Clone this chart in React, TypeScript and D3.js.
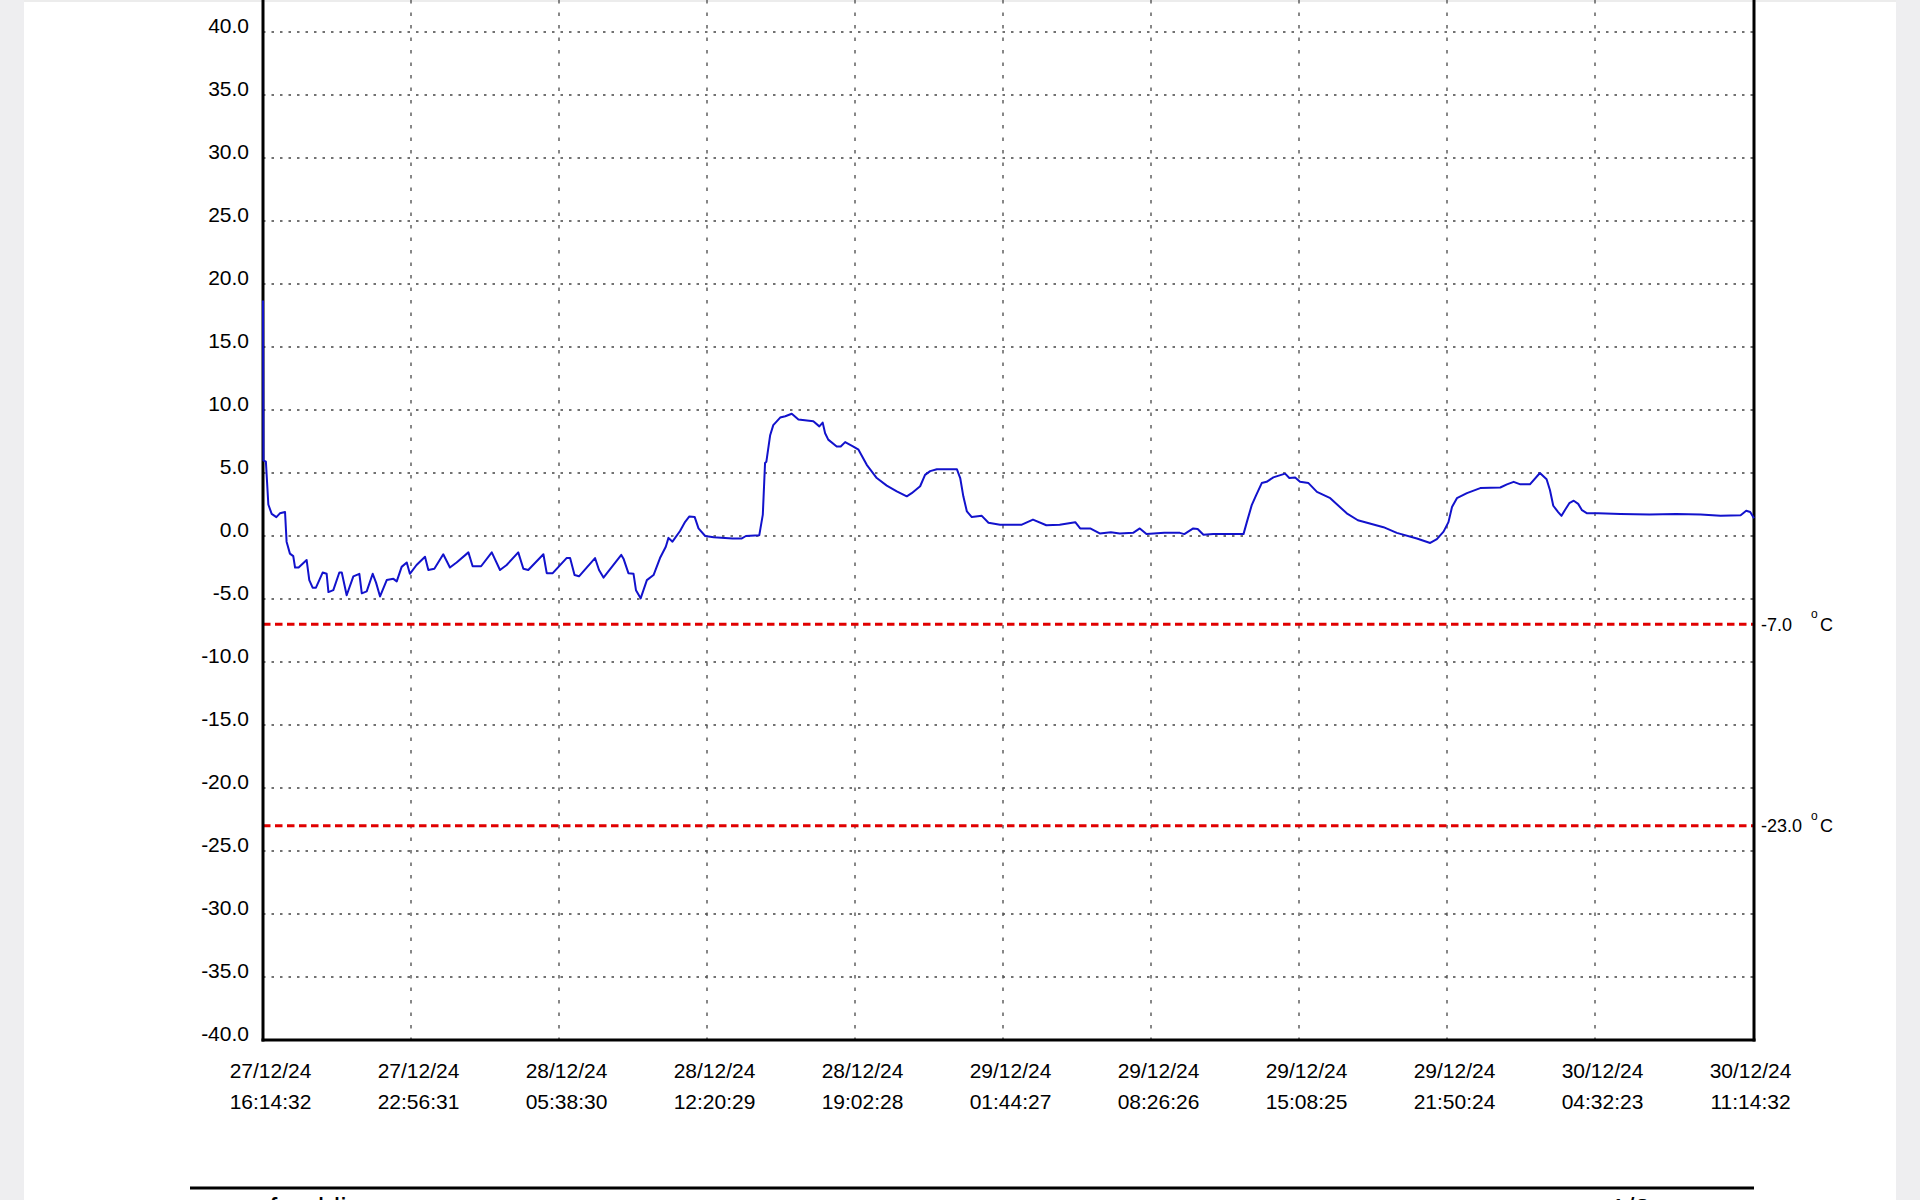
import React from "react";
import * as d3 from "d3";

const hoursFromStart: number[] = [
  0, 0.02, 0.13, 0.24, 0.39, 0.6, 0.76, 0.99, 1.06, 1.21, 1.36, 1.44, 1.6, 1.96, 2.08, 2.23, 2.38, 2.68, 2.86, 2.94,
  3.16, 3.43, 3.54, 3.76, 4.06, 4.33, 4.44, 4.66, 4.93, 5.08, 5.26, 5.56, 5.86, 6.01, 6.23, 6.46, 6.6, 6.9, 7.28, 7.43,
  7.7, 8.1, 8.4, 8.7, 9.23, 9.42, 9.8, 10.28, 10.65, 10.95, 11.47, 11.7, 11.92, 12.6, 12.75, 13.02, 13.64, 13.8, 14.0, 14.2,
  14.92, 15.1, 15.3, 16.1, 16.2, 16.42, 16.65, 16.76, 16.97, 17.25, 17.55, 17.84, 18.1, 18.22, 18.4, 18.74, 18.97, 19.16, 19.4, 19.57,
  19.87, 20.25, 21.1, 21.5, 21.7, 22.3, 22.46, 22.56, 22.62, 22.79, 22.93, 23.24, 23.47, 23.76, 24.06, 24.73, 25.0, 25.15, 25.26, 25.4,
  25.78, 25.96, 26.16, 26.53, 26.76, 27.13, 27.58, 28.03, 28.48, 28.93, 29.15, 29.53, 29.75, 29.98, 30.28, 31.18, 31.33, 31.47, 31.63, 31.85,
  32.3, 32.6, 33.12, 34.1, 34.6, 35.2, 35.8, 36.5, 36.72, 37.17, 37.6, 38.1, 38.5, 39.1, 39.4, 39.7, 40.5, 41.2, 41.4, 41.8,
  42.0, 42.26, 42.7, 44.06, 44.21, 44.43, 44.63, 44.88, 45.1, 45.4, 45.93, 46.12, 46.38, 46.6, 46.98, 47.36, 47.96, 48.7, 49.2, 50.35,
  50.95, 51.85, 52.45, 52.75, 53.05, 53.27, 53.43, 53.65, 54.1, 54.7, 55.6, 55.9, 56.2, 56.5, 56.93, 57.38, 57.68, 57.83, 57.98, 58.2,
  58.35, 58.5, 58.7, 58.9, 59.1, 59.27, 59.5, 60.0, 61.0, 62.3, 63.5, 64.6, 65.5, 66.4, 66.65, 66.83, 67.0,
];

const temperatures: number[] = [
  18.7, 6.0, 5.9, 2.5, 1.75, 1.5, 1.8, 1.9, -0.45, -1.4, -1.6, -2.5, -2.5, -1.9, -3.5, -4.1, -4.1, -2.9, -3.0, -4.45,
  -4.3, -2.9, -2.9, -4.7, -3.2, -3.0, -4.55, -4.4, -3.0, -3.7, -4.8, -3.5, -3.4, -3.6, -2.45, -2.1, -3.0, -2.3, -1.65, -2.7,
  -2.6, -1.45, -2.5, -2.1, -1.3, -2.4, -2.4, -1.3, -2.7, -2.3, -1.3, -2.6, -2.7, -1.45, -2.95, -2.95, -1.75, -1.75, -3.1, -3.2,
  -1.75, -2.7, -3.3, -1.5, -1.8, -2.95, -3.0, -4.3, -4.95, -3.5, -3.1, -1.75, -0.85, -0.15, -0.45, 0.4, 1.13, 1.55, 1.5, 0.6,
  0.0, -0.1, -0.2, -0.2, 0.0, 0.05, 1.7, 5.8, 5.9, 8.0, 8.8, 9.4, 9.5, 9.7, 9.25, 9.1, 8.7, 9.0, 8.15, 7.65,
  7.1, 7.1, 7.45, 7.1, 6.85, 5.65, 4.6, 4.0, 3.55, 3.15, 3.4, 3.95, 4.85, 5.15, 5.3, 5.3, 4.6, 3.15, 1.95, 1.5,
  1.6, 1.05, 0.9, 0.9, 1.3, 0.85, 0.9, 1.1, 0.6, 0.6, 0.2, 0.3, 0.2, 0.25, 0.6, 0.15, 0.25, 0.25, 0.15, 0.6,
  0.55, 0.1, 0.15, 0.15, 1.1, 2.45, 3.25, 4.2, 4.3, 4.65, 4.95, 4.6, 4.65, 4.3, 4.2, 3.5, 3.0, 1.8, 1.25, 0.7,
  0.25, -0.2, -0.55, -0.25, 0.35, 1.1, 2.3, 3.0, 3.4, 3.8, 3.85, 4.1, 4.3, 4.1, 4.1, 5.0, 4.5, 3.65, 2.4, 1.9,
  1.6, 2.05, 2.6, 2.8, 2.55, 2.05, 1.8, 1.8, 1.75, 1.7, 1.75, 1.7, 1.6, 1.65, 2.0, 1.9, 1.4,
];

const xTickDates: string[] = [
  "27/12/24", "27/12/24", "28/12/24", "28/12/24", "28/12/24", "29/12/24",
  "29/12/24", "29/12/24", "29/12/24", "30/12/24", "30/12/24",
];
const xTickTimes: string[] = [
  "16:14:32", "22:56:31", "05:38:30", "12:20:29", "19:02:28", "01:44:27",
  "08:26:26", "15:08:25", "21:50:24", "04:32:23", "11:14:32",
];
const yTicks: number[] = [40, 35, 30, 25, 20, 15, 10, 5, 0, -5, -10, -15, -20, -25, -30, -35, -40];
const limits: number[] = [-7, -23];
const limitLabels: string[] = ["-7.0", "-23.0"];
const unitLabel = "C";
const footerLeft = "www.freshliance.com";
const footerRight = "1/2";

const startTime = new Date(2024, 11, 27, 16, 14, 32);
const totalHours = 67;

const FONT = "'Liberation Sans', Arial, sans-serif";

export default function App() {
  const W = 1920;
  const H = 1200;
  const left = 263;
  const right = 1754;
  const top = 32;
  const bottom = 1040;

  const xTime = d3
    .scaleTime()
    .domain([startTime, new Date(startTime.getTime() + totalHours * 3600e3)])
    .range([left, right]);
  const y = d3.scaleLinear().domain([40, -40]).range([top, bottom]);
  const tickIdx = xTickDates.map((_, i) => String(i));
  const xTick = d3.scalePoint<string>().domain(tickIdx).range([left, left + 1480]);

  const data = hoursFromStart.map((h, i) => ({
    t: new Date(startTime.getTime() + h * 3600e3),
    v: temperatures[i],
  }));
  const line = d3
    .line<{ t: Date; v: number }>()
    .x((d) => xTime(d.t))
    .y((d) => y(d.v));

  return (
    <svg
      width={W}
      height={H}
      style={{ position: "absolute", left: 0, top: 0, display: "block", background: "#fff" }}
    >
      <rect x={0} y={0} width={W} height={H} fill="#fff" />
      <rect x={0} y={0} width={24} height={H} fill="#eeeef0" />
      <rect x={1896} y={0} width={24} height={H} fill="#eeeef0" />
      <rect x={24} y={0} width={1872} height={2} fill="#ececec" />

      {/* horizontal grid */}
      {yTicks
        .filter((v) => v !== -40)
        .map((v) => (
          <line
            key={"hg" + v}
            x1={left}
            x2={right}
            y1={y(v)}
            y2={y(v)}
            stroke="#444"
            strokeWidth={1.4}
            strokeDasharray="2.5 6"
          />
        ))}
      {/* vertical grid */}
      {tickIdx.slice(1, tickIdx.length - 1).map((k) => (
        <line
          key={"vg" + k}
          x1={xTick(k)}
          x2={xTick(k)}
          y1={0}
          y2={bottom}
          stroke="#555"
          strokeWidth={1.4}
          strokeDasharray="3.5 9"
        />
      ))}

      {/* limit lines */}
      {limits.map((l, i) => (
        <g key={"lim" + i}>
          <line
            x1={left}
            x2={right}
            y1={y(l)}
            y2={y(l)}
            stroke="#e00000"
            strokeWidth={3}
            strokeDasharray="7.5 4.5"
          />
          <text x={right + 7} y={y(l) + 6.5} fontFamily={FONT} fontSize={18} fill="#000">
            {limitLabels[i]}
          </text>
          <text x={1811} y={y(l) - 6} fontFamily={FONT} fontSize={12} fill="#000">
            o
          </text>
          <text x={1820} y={y(l) + 6.5} fontFamily={FONT} fontSize={18} fill="#000">
            {unitLabel}
          </text>
        </g>
      ))}

      {/* axes frame */}
      <line x1={left} x2={left} y1={0} y2={bottom + 1.5} stroke="#000" strokeWidth={3} />
      <line x1={right} x2={right} y1={0} y2={bottom + 1.5} stroke="#000" strokeWidth={3} />
      <line x1={left - 1.5} x2={right + 1.5} y1={bottom} y2={bottom} stroke="#000" strokeWidth={3} />

      {/* data */}
      <path d={line(data) || ""} fill="none" stroke="#1212cc" strokeWidth={2} strokeLinejoin="round" />

      {/* y labels */}
      {yTicks.map((v) => (
        <text
          key={"yl" + v}
          x={249}
          y={y(v) + 1}
          textAnchor="end"
          fontFamily={FONT}
          fontSize={21}
          fill="#000"
        >
          {v.toFixed(1)}
        </text>
      ))}

      {/* x labels */}
      {tickIdx.map((k, i) => (
        <g key={"xl" + k}>
          <text
            x={(xTick(k) as number) + 7.5}
            y={1078}
            textAnchor="middle"
            fontFamily={FONT}
            fontSize={21}
            fill="#000"
          >
            {xTickDates[i]}
          </text>
          <text
            x={(xTick(k) as number) + 7.5}
            y={1109}
            textAnchor="middle"
            fontFamily={FONT}
            fontSize={21}
            fill="#000"
          >
            {xTickTimes[i]}
          </text>
        </g>
      ))}

      {/* footer */}
      <line x1={190} x2={right} y1={1188} y2={1188} stroke="#000" strokeWidth={3} />
      <text x={200} y={1219} fontFamily={FONT} fontSize={29} fill="#000">
        {footerLeft}
      </text>
      <text x={1610} y={1219} fontFamily={FONT} fontSize={29} fill="#000">
        {footerRight}
      </text>
    </svg>
  );
}
